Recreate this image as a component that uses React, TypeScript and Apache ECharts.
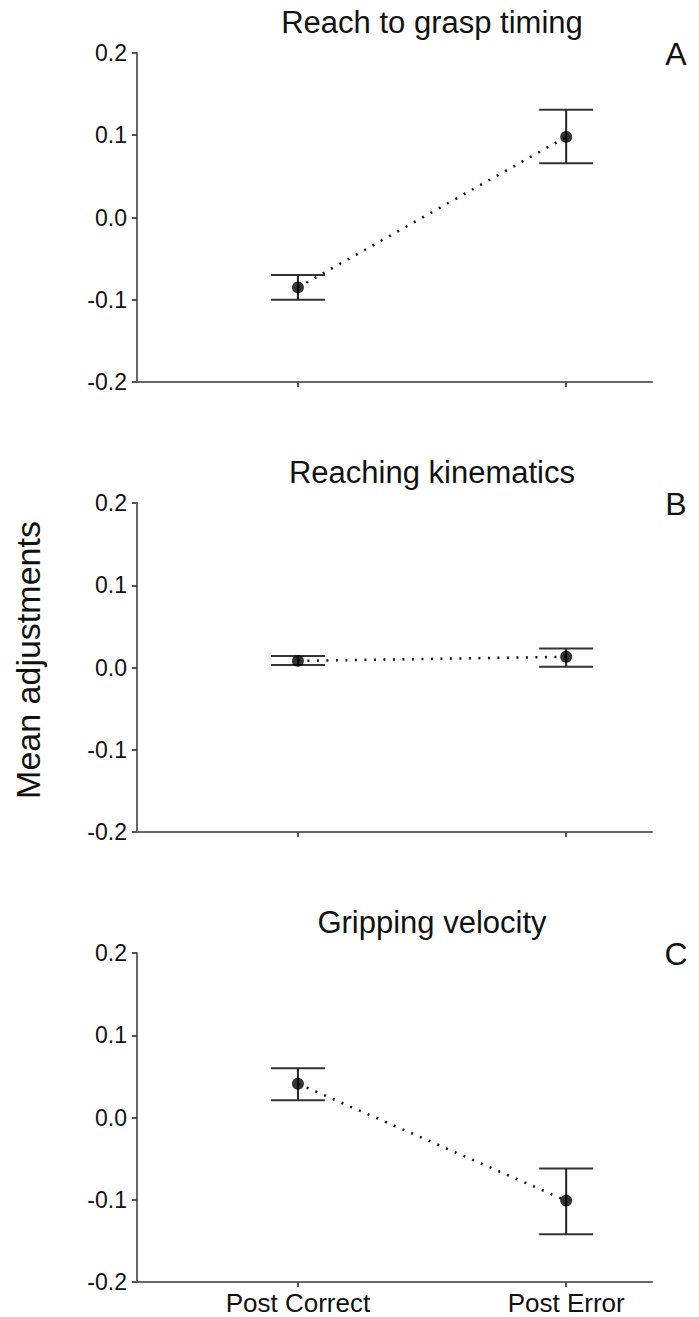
import React, { useEffect, useRef } from "react";
import * as echarts from "echarts";

const categories = ["Post Correct", "Post Error"];
const panelTitles = ["Reach to grasp timing", "Reaching kinematics", "Gripping velocity"];
const panelLetters = ["A", "B", "C"];

const meansA = [-0.085, 0.098];
const upperA = [-0.07, 0.131];
const lowerA = [-0.1, 0.066];

const meansB = [0.008, 0.013];
const upperB = [0.014, 0.023];
const lowerB = [0.003, 0.001];

const meansC = [0.041, -0.101];
const upperC = [0.06, -0.062];
const lowerC = [0.021, -0.142];

const yTicks = [-0.2, -0.1, 0.0, 0.1, 0.2];
const yAxisTitle = "Mean adjustments";

const panels = [
  { means: meansA, upper: upperA, lower: lowerA },
  { means: meansB, upper: upperB, lower: lowerB },
  { means: meansC, upper: upperC, lower: lowerC },
];

const FONT = "'Liberation Sans', Arial, sans-serif";
const GRID_TOPS = [53, 503, 953];
const GRID_H = 329;
const GRID_LEFT = 137;
const GRID_W = 515;

export default function App() {
  const ref = useRef<HTMLDivElement>(null);

  useEffect(() => {
    if (!ref.current) return;
    const chart = echarts.init(ref.current, undefined, { renderer: "svg" });

    const grids: any[] = [];
    const xAxes: any[] = [];
    const yAxes: any[] = [];
    const series: any[] = [];
    const graphics: any[] = [];

    panels.forEach((p, i) => {
      grids.push({ left: GRID_LEFT, top: GRID_TOPS[i], width: GRID_W, height: GRID_H });
      xAxes.push({
        type: "value",
        gridIndex: i,
        min: -0.6,
        max: 1.32,
        splitLine: { show: false },
        axisLine: { show: true, onZero: false, lineStyle: { color: "#666", width: 2 } },
        axisTick: {
          show: true,
          customValues: [0, 1],
          length: 5,
          lineStyle: { color: "#555", width: 2 },
        },
        axisLabel: {
          show: i === 2,
          customValues: [0, 1],
          formatter: (v: number) => categories[Math.round(v)] ?? "",
          color: "#111",
          fontSize: 26,
          fontFamily: FONT,
          margin: 8,
        },
      });
      yAxes.push({
        type: "value",
        gridIndex: i,
        min: yTicks[0],
        max: yTicks[yTicks.length - 1],
        interval: 0.1,
        splitLine: { show: false },
        axisLine: { show: true, onZero: false, lineStyle: { color: "#666", width: 2 } },
        axisTick: { show: true, length: 5, lineStyle: { color: "#555", width: 2 } },
        axisLabel: {
          formatter: (v: number) => v.toFixed(1),
          color: "#111",
          fontSize: 23,
          fontFamily: FONT,
          margin: 10,
        },
      });

      const pts = p.means.map((m, k) => [k, m]);
      series.push({
        type: "line",
        xAxisIndex: i,
        yAxisIndex: i,
        data: pts,
        symbol: "none",
        lineStyle: { color: "#111", width: 2.5, type: [2, 7.5] },
        z: 2,
      });
      series.push({
        type: "custom",
        xAxisIndex: i,
        yAxisIndex: i,
        data: p.means.map((m, k) => [k, p.upper[k], p.lower[k]]),
        encode: { x: 0, y: [1, 2] },
        renderItem: (params: any, api: any) => {
          const x = api.value(0);
          const hi = api.coord([x, api.value(1)]);
          const lo = api.coord([x, api.value(2)]);
          const w = 27;
          return {
            type: "group",
            children: [
              { type: "line", shape: { x1: hi[0] - w, y1: hi[1], x2: hi[0] + w, y2: hi[1] }, style: { stroke: "#333", lineWidth: 2 } },
              { type: "line", shape: { x1: lo[0] - w, y1: lo[1], x2: lo[0] + w, y2: lo[1] }, style: { stroke: "#333", lineWidth: 2 } },
              { type: "line", shape: { x1: hi[0], y1: hi[1], x2: lo[0], y2: lo[1] }, style: { stroke: "#222", lineWidth: 2 } },
            ],
          };
        },
        z: 3,
      });
      series.push({
        type: "scatter",
        xAxisIndex: i,
        yAxisIndex: i,
        data: pts,
        symbol: "circle",
        symbolSize: 12,
        itemStyle: { color: "#000" },
        z: 4,
      });

      graphics.push({
        type: "text",
        x: 432,
        y: GRID_TOPS[i] - 31,
        style: {
          text: panelTitles[i],
          fontSize: 31,
          fontFamily: FONT,
          fill: "#111",
          textAlign: "center",
          textVerticalAlign: "middle",
        },
      });
      graphics.push({
        type: "text",
        x: 676,
        y: GRID_TOPS[i] + 1,
        style: {
          text: panelLetters[i],
          fontSize: 32,
          fontFamily: FONT,
          fill: "#111",
          textAlign: "center",
          textVerticalAlign: "middle",
        },
      });
    });

    graphics.push({
      type: "text",
      x: 28,
      y: 660,
      rotation: Math.PI / 2,
      style: {
        text: yAxisTitle,
        fontSize: 34,
        fontFamily: FONT,
        fill: "#111",
        textAlign: "center",
        textVerticalAlign: "middle",
      },
    });

    chart.setOption({
      animation: false,
      backgroundColor: "#fff",
      grid: grids,
      xAxis: xAxes,
      yAxis: yAxes,
      series,
      graphic: graphics,
    });

    return () => chart.dispose();
  }, []);

  return (
    <div
      ref={ref}
      style={{ position: "absolute", left: 0, top: 0, width: 699, height: 1317 }}
    />
  );
}
